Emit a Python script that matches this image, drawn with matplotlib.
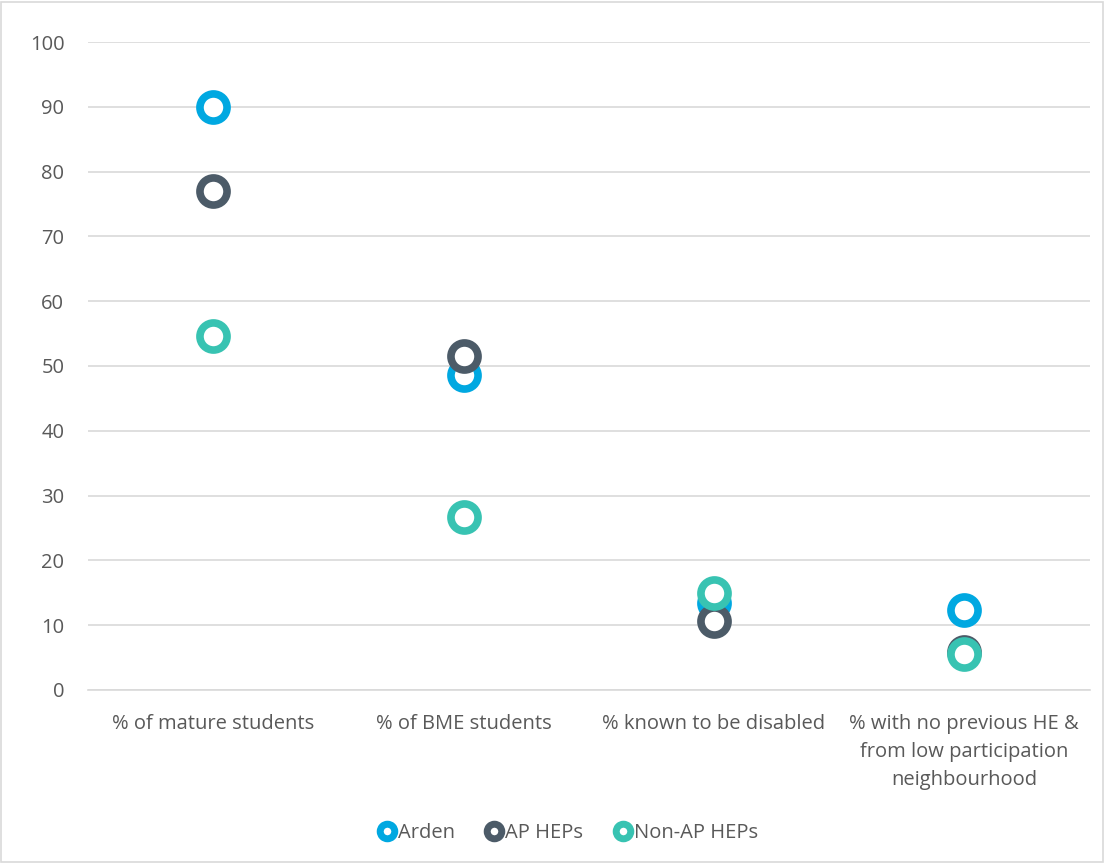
import numpy as np
import matplotlib.pyplot as plt
from matplotlib.patches import Rectangle

categories = ['% of mature students', '% of BME students', '% known to be disabled',
              '% with no previous HE &\nfrom low participation\nneighbourhood']
arden = [90.0, 48.6, 13.4, 12.4]
ap_heps = [77.0, 51.6, 10.6, 5.9]
non_ap_heps = [54.6, 26.7, 15.0, 5.6]

series = [('Arden', arden, '#00A8E1'),
          ('AP HEPs', ap_heps, '#4C5B68'),
          ('Non-AP HEPs', non_ap_heps, '#38C3B2')]

plt.rcParams['font.family'] = ['Open Sans', 'DejaVu Sans']
text_col = '#595959'
fs = 14.5

fig = plt.figure(figsize=(11.05, 8.63), dpi=100)
ax = fig.add_axes([0.0796, 0.2005, 0.9064, 0.7508])

x = np.arange(len(categories))
for name, vals, col in series:
    ax.plot(x, vals, linestyle='none', marker='o', markersize=19.5,
            markerfacecolor='white', markeredgecolor=col, markeredgewidth=5.5,
            label=name)

ax.set_xlim(-0.5, len(categories) - 0.5)
ax.set_ylim(0, 100)
ax.set_yticks(range(0, 101, 10))
ax.set_xticks(x)
ax.set_xticklabels(categories, fontsize=fs, color=text_col, linespacing=1.55)
ax.tick_params(axis='y', labelsize=fs, labelcolor=text_col, length=0, pad=17)
ax.tick_params(axis='x', length=0, pad=17)
ax.grid(axis='y', color='#D9D9D9', linewidth=1.2)
ax.set_axisbelow(True)
for s in ['top', 'right', 'left']:
    ax.spines[s].set_visible(False)
ax.spines['bottom'].set_color('#D9D9D9')
ax.spines['bottom'].set_linewidth(1.2)

handles = [plt.Line2D([], [], linestyle='none', marker='o', markersize=10.5,
                      markerfacecolor='white', markeredgecolor=col, markeredgewidth=5)
           for _, _, col in series]
leg = fig.legend(handles, [s[0] for s in series], loc='center', ncol=3,
                 bbox_to_anchor=(0.513, 0.035), frameon=False, fontsize=fs,
                 handletextpad=0.0, columnspacing=1.4, handlelength=1.1)
for t in leg.get_texts():
    t.set_color(text_col)

fig.patches.append(Rectangle((0.001, 0.001), 0.997, 0.997, transform=fig.transFigure,
                             fill=False, edgecolor='#D9D9D9', linewidth=1.2))

fig.savefig('out.png', dpi=100)
